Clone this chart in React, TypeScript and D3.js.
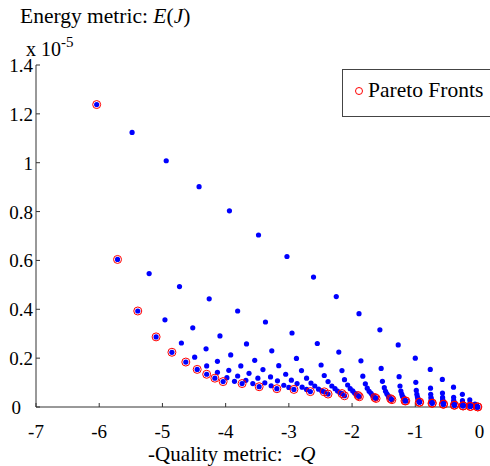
import React from "react";
import * as d3 from "d3";

// Chains of candidate solutions (x = -Q, y = E in units of 1e-5)
const c1X = [-6.04, -5.48, -4.94, -4.42, -3.94, -3.48, -3.03, -2.61, -2.25, -1.89, -1.56, -1.27, -1.0, -0.763, -0.572, -0.395, -0.255, -0.138, -0.055];
const c1Y = [1.238, 1.124, 1.008, 0.902, 0.803, 0.704, 0.616, 0.532, 0.452, 0.382, 0.316, 0.254, 0.2, 0.154, 0.113, 0.081, 0.052, 0.029, 0.012];
const c2X = [-5.71, -5.21, -4.73, -4.26, -3.81, -3.37, -2.95, -2.55, -2.21, -1.86, -1.54, -1.256, -0.992, -0.759, -0.57, -0.393, -0.254, -0.137, -0.05];
const c2Y = [0.604, 0.546, 0.493, 0.443, 0.393, 0.348, 0.303, 0.26, 0.225, 0.189, 0.158, 0.124, 0.101, 0.077, 0.057, 0.04, 0.026, 0.014, 0.005];
const c3X = [-5.39, -4.96, -4.52, -4.09, -3.67, -3.27, -2.88, -2.49, -2.16, -1.83, -1.52, -1.242, -0.984, -0.756, -0.568, -0.392, -0.252, -0.136, -0.045];
const c3Y = [0.393, 0.357, 0.324, 0.291, 0.258, 0.23, 0.199, 0.172, 0.149, 0.126, 0.105, 0.086, 0.068, 0.052, 0.039, 0.027, 0.017, 0.009, 0.003];
const c4X = [-5.1, -4.7, -4.31, -3.92, -3.54, -3.16, -2.8, -2.44, -2.12, -1.79, -1.49, -1.228, -0.975, -0.752, -0.566, -0.39, -0.251, -0.135, -0.039];
const c4Y = [0.287, 0.262, 0.238, 0.213, 0.191, 0.169, 0.149, 0.129, 0.112, 0.095, 0.079, 0.065, 0.052, 0.04, 0.03, 0.021, 0.013, 0.007, 0.002];
const c5X = [-4.85, -4.49, -4.13, -3.76, -3.41, -3.05, -2.72, -2.38, -2.07, -1.76, -1.47, -1.214, -0.967, -0.749, -0.564, -0.389, -0.25, -0.134, -0.034];
const c5Y = [0.224, 0.204, 0.187, 0.168, 0.153, 0.134, 0.118, 0.104, 0.09, 0.077, 0.064, 0.053, 0.042, 0.033, 0.025, 0.017, 0.011, 0.006, 0.0015];
const c6X = [-4.63, -4.3, -3.95, -3.63, -3.29, -2.96, -2.65, -2.32, -2.03, -1.73, -1.45, -1.202, -0.96, -0.746, -0.562, -0.387, -0.249, -0.133, -0.029];
const c6Y = [0.184, 0.168, 0.15, 0.138, 0.123, 0.11, 0.098, 0.086, 0.075, 0.064, 0.054, 0.044, 0.036, 0.028, 0.021, 0.014, 0.009, 0.005, 0.001];
const c7X = [-4.45, -4.13, -3.81, -3.49, -3.18, -2.87, -2.59, -2.27, -1.99, -1.7, -1.43, -1.19, -0.953, -0.743, -0.561, -0.386, -0.248, -0.132, -0.025];
const c7Y = [0.154, 0.142, 0.127, 0.118, 0.107, 0.096, 0.086, 0.075, 0.066, 0.056, 0.047, 0.039, 0.031, 0.025, 0.019, 0.013, 0.008, 0.004, 0.001];
const c8X = [-4.3, -3.98, -3.68, -3.38, -3.08, -2.79, -2.53, -2.23, -1.96, -1.68, -1.42, -1.18, -0.947, -0.74, -0.559, -0.385, -0.247, -0.131, -0.021];
const c8Y = [0.134, 0.12, 0.109, 0.099, 0.089, 0.081, 0.073, 0.065, 0.057, 0.049, 0.041, 0.034, 0.027, 0.021, 0.016, 0.011, 0.007, 0.004, 0.0006];
const c9X = [-4.17, -3.86, -3.57, -3.28, -3.0, -2.72, -2.48, -2.19, -1.93, -1.66, -1.4, -1.171, -0.942, -0.738, -0.558, -0.384, -0.246, -0.13, -0.018];
const c9Y = [0.118, 0.105, 0.096, 0.087, 0.08, 0.072, 0.066, 0.058, 0.051, 0.044, 0.037, 0.031, 0.025, 0.02, 0.015, 0.01, 0.0066, 0.0035, 0.0005];
const c10X = [-4.04, -3.74, -3.47, -3.19, -2.92, -2.66, -2.44, -2.16, -1.905, -1.64, -1.39, -1.163, -0.937, -0.736, -0.557, -0.383, -0.245, -0.13, -0.015];
const c10Y = [0.104, 0.096, 0.083, 0.075, 0.072, 0.063, 0.062, 0.055, 0.047, 0.039, 0.034, 0.025, 0.019, 0.015, 0.011, 0.007, 0.004, 0.002, 0.0005];
const c11X = [-2.38, -2.12, -1.885, -1.62, -1.37, -1.15, -0.93, -0.73, -0.552, -0.379, -0.242, -0.127, -0.01];
const c11Y = [0.053, 0.046, 0.042, 0.035, 0.03, 0.025, 0.02, 0.016, 0.012, 0.008, 0.005, 0.003, 0.0002];

const chainsX = [c1X, c2X, c3X, c4X, c5X, c6X, c7X, c8X, c9X, c10X, c11X];
const chainsY = [c1Y, c2Y, c3Y, c4Y, c5Y, c6Y, c7Y, c8Y, c9Y, c10Y, c11Y];

// Pareto-optimal points (circled in red)
const paretoHeadX = [-6.04, -5.71, -5.39, -5.1, -4.85, -4.63, -4.45, -4.3, -4.17];
const paretoHeadY = [1.238, 0.604, 0.393, 0.287, 0.224, 0.184, 0.154, 0.134, 0.118];
const paretoX = [...paretoHeadX, ...c10X, ...c11X];
const paretoY = [...paretoHeadY, ...c10Y, ...c11Y];

const xTicks = [-7, -6, -5, -4, -3, -2, -1, 0];
const xTickLabels = ["-7", "-6", "-5", "-4", "-3", "-2", "-1", "0"];
const yTicks = [0, 0.2, 0.4, 0.6, 0.8, 1.0, 1.2, 1.4];
const yTickLabels = ["0", "0.2", "0.4", "0.6", "0.8", "1", "1.2", "1.4"];

const W = 490;
const H = 466;
const FONT = "'Liberation Serif', 'Times New Roman', serif";

export default function App() {
  const x = d3.scaleLinear().domain([-7, 0]).range([36, 478.5]);
  const y = d3.scaleLinear().domain([0, 1.4]).range([407, 65]);

  const dots: { cx: number; cy: number }[] = [];
  chainsX.forEach((xs, i) => {
    xs.forEach((v, j) => dots.push({ cx: x(v), cy: y(chainsY[i][j]) }));
  });

  const axisColor = "#333";

  return (
    <svg
      width={W}
      height={H}
      style={{ position: "absolute", left: 0, top: 0, background: "#fff" }}
      fontFamily={FONT}
    >
      <rect x={0} y={0} width={W} height={H} fill="#fff" />
      {/* axes */}
      <line x1={x(-7)} x2={x(-7)} y1={y(1.4)} y2={y(0)} stroke={axisColor} strokeWidth={1} />
      <line x1={x(-7)} x2={x(0)} y1={y(0)} y2={y(0)} stroke={axisColor} strokeWidth={1} />
      {xTicks.map((t, i) => (
        <g key={"xt" + i}>
          <line x1={x(t)} x2={x(t)} y1={y(0)} y2={y(0) - 4} stroke={axisColor} />
          <text x={x(t) + (t === 0 ? 1 : 0)} y={438} fontSize={19} textAnchor="middle" fill="#000">
            {xTickLabels[i]}
          </text>
        </g>
      ))}
      {yTicks.map((t, i) => (
        <g key={"yt" + i}>
          <line x1={x(-7)} x2={x(-7) + 4} y1={y(t)} y2={y(t)} stroke={axisColor} />
          <text x={t === 0 ? 21 : 33} y={y(t) + 7} fontSize={19} textAnchor="end" fill="#000">
            {yTickLabels[i]}
          </text>
        </g>
      ))}

      {/* points */}
      {dots.map((d, i) => (
        <circle key={"d" + i} cx={d.cx} cy={d.cy} r={2.6} fill="#0000ff" />
      ))}
      {paretoX.map((v, i) => (
        <circle key={"p" + i} cx={x(v)} cy={y(paretoY[i])} r={4} fill="none" stroke="#ff0000" strokeWidth={1} />
      ))}

      {/* titles */}
      <text x={20} y={23} fontSize={21.5} fill="#000">
        Energy metric: <tspan fontStyle="italic">E</tspan>(<tspan fontStyle="italic">J</tspan>)
      </text>
      <text x={26} y={56} fontSize={20} fill="#000">
        x 10<tspan fontSize={15} dy={-9}>-5</tspan>
      </text>
      <text x={148} y={461} fontSize={21} fill="#000" style={{ whiteSpace: "pre" }}>
        {"-Quality metric:  "}
        <tspan fontStyle="italic">-Q</tspan>
      </text>

      {/* legend */}
      <rect x={342.5} y={69.5} width={160} height={47} fill="#fff" stroke="#444" strokeWidth={1} />
      <circle cx={359} cy={91} r={3.5} fill="none" stroke="#ff0000" strokeWidth={1} />
      <text x={368} y={97} fontSize={21.5} fill="#000">
        Pareto Fronts
      </text>
    </svg>
  );
}
